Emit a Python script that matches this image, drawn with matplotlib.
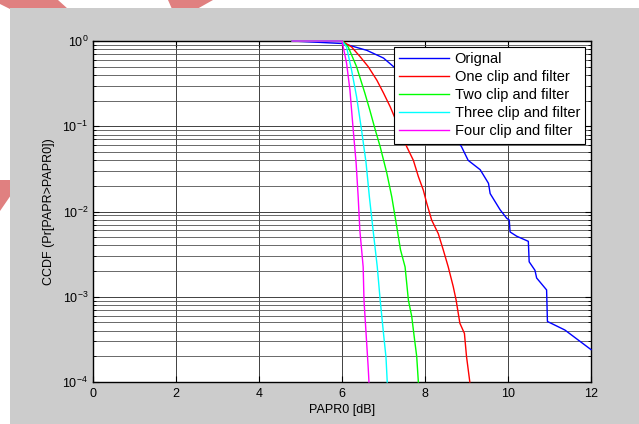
import numpy as np
import matplotlib
matplotlib.use("Agg")
import matplotlib.pyplot as plt
from matplotlib.patches import Rectangle, Polygon
from matplotlib.ticker import LogLocator, LogFormatterSciNotation, NullFormatter

plt.rcParams['font.family'] = ['Liberation Sans', 'DejaVu Sans']
plt.rcParams['mathtext.fontset'] = 'custom'
plt.rcParams['mathtext.rm'] = 'Liberation Sans'
plt.rcParams['mathtext.it'] = 'Liberation Sans'
plt.rcParams['mathtext.bf'] = 'Liberation Sans'

# data: PAPR0 [dB] and log10(CCDF)
orig_x = [4.8, 6.03, 6.60, 7.00, 7.24, 7.6, 8.0, 8.4, 8.88, 9.04, 9.33, 9.53, 9.57, 9.81, 9.97,
          10.03, 10.05, 10.21, 10.49, 10.51, 10.65, 10.69, 10.93, 10.95, 11.37, 12.0]
orig_y = [0, -0.03, -0.11, -0.20, -0.30, -0.45, -0.65, -0.90, -1.24, -1.40, -1.51, -1.67, -1.79, -1.98, -2.08,
          -2.10, -2.24, -2.29, -2.35, -2.59, -2.69, -2.78, -2.92, -3.29, -3.39, -3.62]

one_x = [4.8, 6.0, 6.23, 6.43, 6.63, 6.84, 7.00, 7.16, 7.36, 7.56, 7.72, 7.84, 7.96, 8.04, 8.16, 8.28,
         8.32, 8.44, 8.56, 8.68, 8.75, 8.84, 8.95, 9.00, 9.08]
one_y = [0, 0, -0.07, -0.18, -0.30, -0.46, -0.61, -0.77, -1.0, -1.24, -1.40, -1.59, -1.75, -1.90, -2.10, -2.22,
         -2.26, -2.45, -2.65, -2.88, -3.04, -3.31, -3.43, -3.70, -4.0]

two_x = [4.8, 6.0, 6.15, 6.35, 6.55, 6.67, 6.80, 6.92, 7.08, 7.20, 7.32, 7.41, 7.52, 7.60, 7.68, 7.73, 7.80, 7.84]
two_y = [0, 0, -0.07, -0.30, -0.61, -0.81, -1.04, -1.24, -1.55, -1.83, -2.18, -2.45, -2.65, -3.04, -3.23, -3.43, -3.70, -4.0]

three_x = [4.8, 6.0, 6.11, 6.23, 6.35, 6.47, 6.58, 6.66, 6.74, 6.85, 6.92, 7.00, 7.06, 7.09]
three_y = [0, 0, -0.07, -0.34, -0.65, -1.04, -1.43, -1.83, -2.18, -2.65, -3.04, -3.43, -3.71, -4.0]

four_x = [4.8, 6.0, 6.11, 6.19, 6.27, 6.34, 6.39, 6.43, 6.51, 6.53, 6.58, 6.63, 6.65]
four_y = [0, 0, -0.26, -0.57, -1.04, -1.43, -1.83, -2.22, -2.65, -3.04, -3.43, -3.82, -4.0]

series = [
    ("Orignal", orig_x, orig_y, "#0000ff"),
    ("One clip and filter", one_x, one_y, "#ff0000"),
    ("Two clip and filter", two_x, two_y, "#00ff00"),
    ("Three clip and filter", three_x, three_y, "#00ffff"),
    ("Four clip and filter", four_x, four_y, "#ff00ff"),
]

fig = plt.figure(figsize=(6.39, 4.24), dpi=100, facecolor="white")

# watermark pieces and grey figure panel
W, H = 639.0, 424.0
def fp(pts):
    return [(x / W, 1 - y / H) for x, y in pts]
for pts in ([(0, 0), (58, 0), (68, 9), (10, 9), (0, 4)],
            [(168, 0), (213, 0), (197, 9), (172, 9)],
            [(0, 180), (11, 180), (11, 195), (0, 211)]):
    fig.patches.append(Polygon(fp(pts), closed=True, transform=fig.transFigure,
                               facecolor="#e08080", edgecolor="none", zorder=0))
fig.patches.append(Rectangle((10 / W, 0), 1 - 10 / W, 1 - 8 / H, transform=fig.transFigure,
                             facecolor="#cccccc", edgecolor="none", zorder=1))

ax = fig.add_axes([93 / W, 42 / H, 498 / W, 341 / H])
ax.set_zorder(2)
ax.set_facecolor("white")

for name, xs, ys, c in series:
    ax.plot(xs, 10 ** np.array(ys), color=c, lw=1.0, label=name, zorder=3, clip_on=False)

ax.set_yscale("log")
ax.set_xlim(0, 12)
ax.set_ylim(1e-4, 1)
ax.set_xticks(np.arange(0, 13, 2))
ax.yaxis.set_major_locator(LogLocator(base=10, numticks=10))
ax.yaxis.set_minor_locator(LogLocator(base=10, subs=np.arange(2, 10), numticks=10))
ax.yaxis.set_major_formatter(LogFormatterSciNotation())
ax.yaxis.set_minor_formatter(NullFormatter())

ax.grid(True, which="major", color="#404040", lw=0.7)
ax.grid(True, which="minor", axis="y", color="#505050", lw=0.6)
ax.set_axisbelow(True)

ax.tick_params(which="both", direction="in", top=True, right=True, labelsize=9, colors="black")
ax.tick_params(which="major", length=4, width=0.8)
ax.tick_params(which="minor", length=2, width=0.6)
ax.tick_params(axis="x", pad=4)
for s in ax.spines.values():
    s.set_color("black")
    s.set_linewidth(1.0)

ax.set_xlabel("PAPR0 [dB]", fontsize=9, labelpad=3)
ax.set_ylabel("CCDF (Pr[PAPR>PAPR0])", fontsize=9, labelpad=5)

leg = ax.legend(loc="upper right", bbox_to_anchor=(585 / W, 1 - 47 / H), bbox_transform=fig.transFigure,
                borderaxespad=0, fancybox=False, framealpha=1, edgecolor="black", fontsize=10.5,
                handlelength=3.4, handletextpad=0.4, labelspacing=0.28, borderpad=0.35)
leg.get_frame().set_linewidth(0.8)

fig.savefig("out.png", dpi=100, facecolor="white")
